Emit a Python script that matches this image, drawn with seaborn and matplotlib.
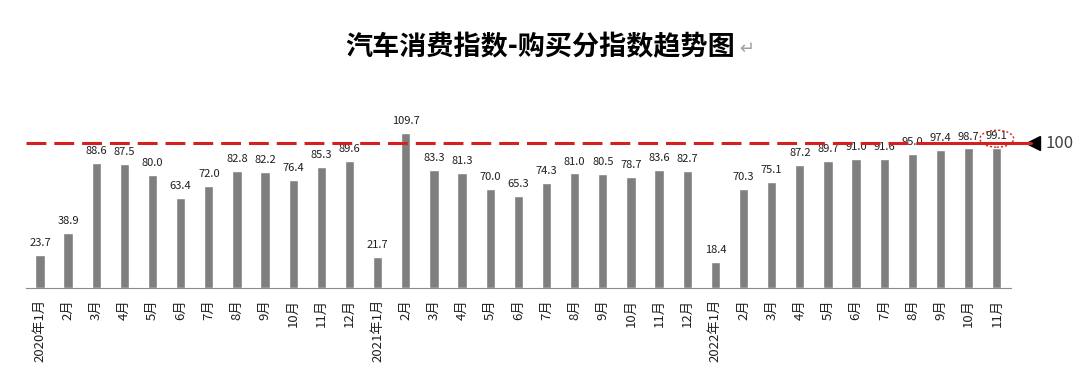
import numpy as np
import pandas as pd
import matplotlib.pyplot as plt
from matplotlib.patches import Ellipse
import seaborn as sns

# data
months = ["2020年1月", "2月", "3月", "4月", "5月", "6月", "7月", "8月", "9月", "10月", "11月", "12月",
          "2021年1月", "2月", "3月", "4月", "5月", "6月", "7月", "8月", "9月", "10月", "11月", "12月",
          "2022年1月", "2月", "3月", "4月", "5月", "6月", "7月", "8月", "9月", "10月", "11月"]
index_values = [23.7, 38.9, 88.6, 87.5, 80.0, 63.4, 72.0, 82.8, 82.2, 76.4, 85.3, 89.6,
                21.7, 109.7, 83.3, 81.3, 70.0, 65.3, 74.3, 81.0, 80.5, 78.7, 83.6, 82.7,
                18.4, 70.3, 75.1, 87.2, 89.7, 91.0, 91.6, 95.0, 97.4, 98.7, 99.1]
ref_level = 100
title = "汽车消费指数-购买分指数趋势图"

sns.set_style("white")
plt.rcParams['font.family'] = ['Noto Sans CJK SC', 'DejaVu Sans']

df = pd.DataFrame({"pos": np.arange(len(months)), "value": index_values})

fig = plt.figure(figsize=(10.8, 3.91), dpi=100)
ax = fig.add_axes([0.024, 0.2634, 0.912, 0.452])

sns.barplot(data=df, x="pos", y="value", color="#7f7f7f", saturation=1, width=0.33, ax=ax)

ax.set_xlim(-0.5, len(months) - 0.5)
ax.set_ylim(0, 125)
ax.set_xlabel("")
ax.set_ylabel("")
ax.set_yticks([])
ax.set_xticks(df["pos"])
ax.set_xticklabels(months, rotation=90, fontsize=9.5, color="#1f1f1f")
ax.tick_params(axis="x", which="major", length=0, pad=8)
ax.set_xticks(np.arange(len(months) + 1) - 0.5, minor=True)
ax.tick_params(axis="x", which="minor", length=5, color="#8c8c8c", width=0.8)
for s in ["top", "right", "left"]:
    ax.spines[s].set_visible(False)
ax.spines["bottom"].set_color("#8c8c8c")
ax.spines["bottom"].set_linewidth(0.8)

# value labels
for i, v in enumerate(index_values):
    ax.annotate(f"{v:.1f}", (i, v), xytext=(0, 5), textcoords="offset points",
                ha="center", va="bottom", fontsize=8, color="#1f1f1f")

# reference line at 100 (drawn a touch high, like the hand-drawn original)
n = len(months)
line_y = ref_level + 2.5
ax.plot([-0.5, n - 3.2], [line_y, line_y], color="#d62020", lw=2.2,
        dashes=(6.5, 2.6), clip_on=False, zorder=3)
ax.plot([n - 3.2, n + 0.2], [line_y, line_y], color="#d62020", lw=2.2,
        clip_on=False, zorder=3)
ax.plot([n + 0.3], [line_y], marker="<", color="black", markersize=10, clip_on=False)
ax.text(n + 0.72, line_y, str(ref_level), fontsize=12, color="#404040", va="center",
        ha="left", clip_on=False)

# dotted ellipse around the latest value
ax.add_patch(Ellipse((n - 1, index_values[-1] + 6.5), 1.2, 12, fill=False,
                     edgecolor="#d62020", ls=(0, (1.5, 1.5)), lw=1, clip_on=False, zorder=4))

fig.text(0.5, 0.88, title, ha="center", va="center", fontsize=19.5, fontweight="bold",
         color="black")
fig.text(0.684, 0.875, "↵", ha="left", va="center", fontsize=13, color="#a0a0a0",
         family=['DejaVu Sans'])

fig.savefig("out.png", dpi=100)
